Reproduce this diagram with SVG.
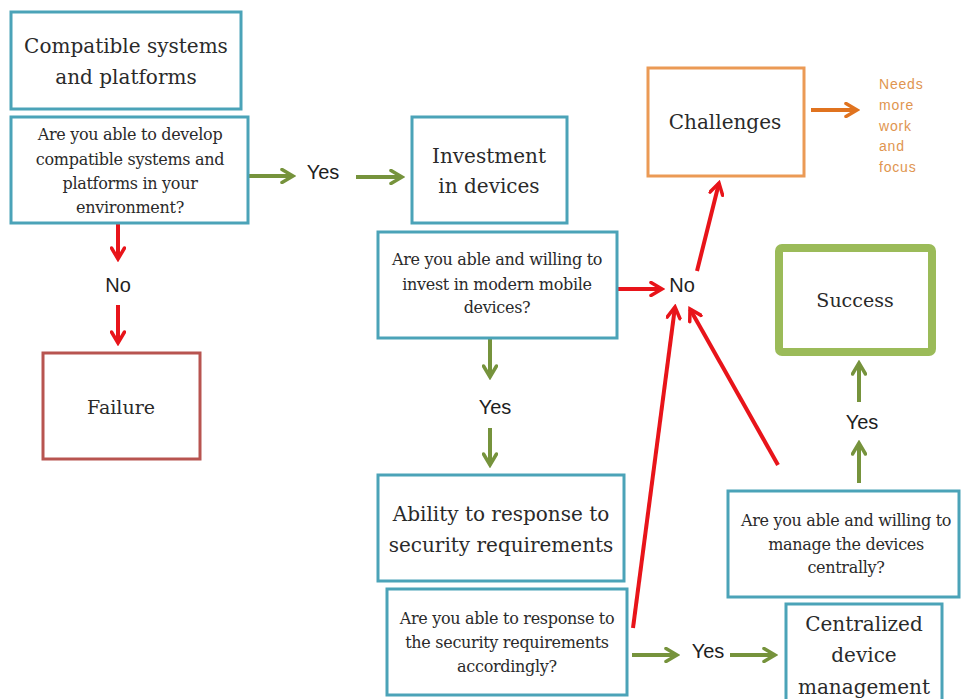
<svg xmlns="http://www.w3.org/2000/svg" width="961" height="699" viewBox="0 0 961 699">
<style>
.box{fill:#fff;stroke:#4ba3b8;stroke-width:3}
.t{font-family:"DejaVu Serif","Liberation Serif",serif;fill:#2a2a2a;text-anchor:middle}
.big{font-size:20px}
.q{font-size:16px;letter-spacing:-0.3px}
.lbl{font-family:"Liberation Sans","Open Sans",sans-serif;font-size:20px;fill:#1e1e1e;text-anchor:middle}
.g{stroke:#76933c;stroke-width:4;fill:none}
.r{stroke:#e8141a;stroke-width:4;fill:none}
.o{stroke:#e0731f;stroke-width:4;fill:none}
.needs{font-family:"Liberation Sans","Open Sans",sans-serif;font-size:14px;fill:#e0954f;letter-spacing:0.8px}
</style>
<defs>
<marker id="ag" viewBox="0 0 16 16" refX="13" refY="8" markerWidth="16" markerHeight="16" markerUnits="userSpaceOnUse" orient="auto"><path d="M2,1.5 L13,8 L2,14.5" fill="none" stroke="#76933c" stroke-width="3.5" stroke-linecap="round"/></marker>
<marker id="ar" viewBox="0 0 16 16" refX="13" refY="8" markerWidth="16" markerHeight="16" markerUnits="userSpaceOnUse" orient="auto"><path d="M2,1.5 L13,8 L2,14.5" fill="none" stroke="#e8141a" stroke-width="3.5" stroke-linecap="round"/></marker>
<marker id="ao" viewBox="0 0 16 16" refX="13" refY="8" markerWidth="16" markerHeight="16" markerUnits="userSpaceOnUse" orient="auto"><path d="M2,1.5 L13,8 L2,14.5" fill="none" stroke="#e0731f" stroke-width="3.5" stroke-linecap="round"/></marker>
</defs>
<rect width="961" height="699" fill="#fff"/>

<g id="connectors">
<line class="g" x1="249" y1="176" x2="293" y2="176" marker-end="url(#ag)"/>
<line class="g" x1="356" y1="177" x2="402" y2="177" marker-end="url(#ag)"/>
<line class="r" x1="118" y1="224" x2="118" y2="259" marker-end="url(#ar)"/>
<line class="r" x1="118" y1="305" x2="118" y2="343" marker-end="url(#ar)"/>
<line class="r" x1="618" y1="289" x2="662" y2="289" marker-end="url(#ar)"/>
<line class="r" x1="697" y1="271" x2="719" y2="183" marker-end="url(#ar)"/>
<line class="o" x1="811" y1="110" x2="857" y2="110" marker-end="url(#ao)"/>
<line class="g" x1="490" y1="339" x2="490" y2="377" marker-end="url(#ag)"/>
<line class="g" x1="490" y1="428" x2="490" y2="465" marker-end="url(#ag)"/>
<line class="r" x1="633" y1="628" x2="675" y2="307" marker-end="url(#ar)"/>
<line class="r" x1="778" y1="465" x2="690" y2="309" marker-end="url(#ar)"/>
<line class="g" x1="859" y1="402" x2="859" y2="363" marker-end="url(#ag)"/>
<line class="g" x1="859" y1="483" x2="859" y2="443" marker-end="url(#ag)"/>
<line class="g" x1="632" y1="655" x2="677" y2="655" marker-end="url(#ag)"/>
<line class="g" x1="730" y1="655" x2="775" y2="655" marker-end="url(#ag)"/>
<g id="labels">
<text class="lbl" x="323" y="179">Yes</text>
<text class="lbl" x="118" y="292">No</text>
<text class="lbl" x="682" y="292">No</text>
<text class="lbl" x="495" y="414">Yes</text>
<text class="lbl" x="862" y="429">Yes</text>
<text class="lbl" x="708" y="658">Yes</text>
</g>
</g>

<g id="compatible">
<rect class="box" x="11" y="12" width="230" height="97"/>
<text class="t big" x="126" y="53">Compatible systems</text>
<text class="t big" x="126" y="84">and platforms</text>
</g>
<g id="q-compatible">
<rect class="box" x="11" y="117" width="237" height="106"/>
<text class="t q" x="130" y="140">Are you able to develop</text>
<text class="t q" x="130" y="165">compatible systems and</text>
<text class="t q" x="130" y="189">platforms in your</text>
<text class="t q" x="130" y="213">environment?</text>
</g>
<g id="failure">
<rect x="43" y="353" width="157" height="106" fill="#fff" stroke="#b85450" stroke-width="3"/>
<text class="t" x="121" y="414" font-size="19">Failure</text>
</g>
<g id="investment">
<rect class="box" x="412" y="117" width="155" height="106"/>
<text class="t big" x="489" y="163">Investment</text>
<text class="t big" x="489" y="193">in devices</text>
</g>
<g id="q-invest">
<rect class="box" x="378" y="232" width="239" height="106"/>
<text class="t q" x="497" y="265">Are you able and willing to</text>
<text class="t q" x="497" y="290">invest in modern mobile</text>
<text class="t q" x="497" y="313">devices?</text>
</g>
<g id="challenges">
<rect x="648" y="68" width="156" height="108" fill="#fff" stroke="#eb9a55" stroke-width="3"/>
<text class="t big" x="725" y="129">Challenges</text>
<text class="needs" x="879" y="89">Needs</text>
<text class="needs" x="879" y="110">more</text>
<text class="needs" x="879" y="131">work</text>
<text class="needs" x="879" y="151">and</text>
<text class="needs" x="879" y="172">focus</text>
</g>
<g id="success">
<rect x="779" y="248" width="153" height="104" rx="3" fill="#fff" stroke="#9bbb59" stroke-width="8"/>
<text class="t" x="855" y="307" font-size="19">Success</text>
</g>
<g id="ability">
<rect class="box" x="378" y="475" width="246" height="106"/>
<text class="t big" x="501" y="521">Ability to response to</text>
<text class="t big" x="501" y="552">security requirements</text>
</g>
<g id="q-security">
<rect class="box" x="387" y="589" width="240" height="106"/>
<text class="t q" x="507" y="624">Are you able to response to</text>
<text class="t q" x="507" y="648">the security requirements</text>
<text class="t q" x="507" y="672">accordingly?</text>
</g>
<g id="q-manage">
<rect class="box" x="728" y="491" width="231" height="106"/>
<text class="t q" x="846" y="526">Are you able and willing to</text>
<text class="t q" x="846" y="550">manage the devices</text>
<text class="t q" x="846" y="573">centrally?</text>
</g>
<g id="centralized">
<rect class="box" x="786" y="604" width="156" height="100"/>
<text class="t big" x="864" y="631">Centralized</text>
<text class="t big" x="864" y="662">device</text>
<text class="t big" x="864" y="694">management</text>
</g>
</svg>
